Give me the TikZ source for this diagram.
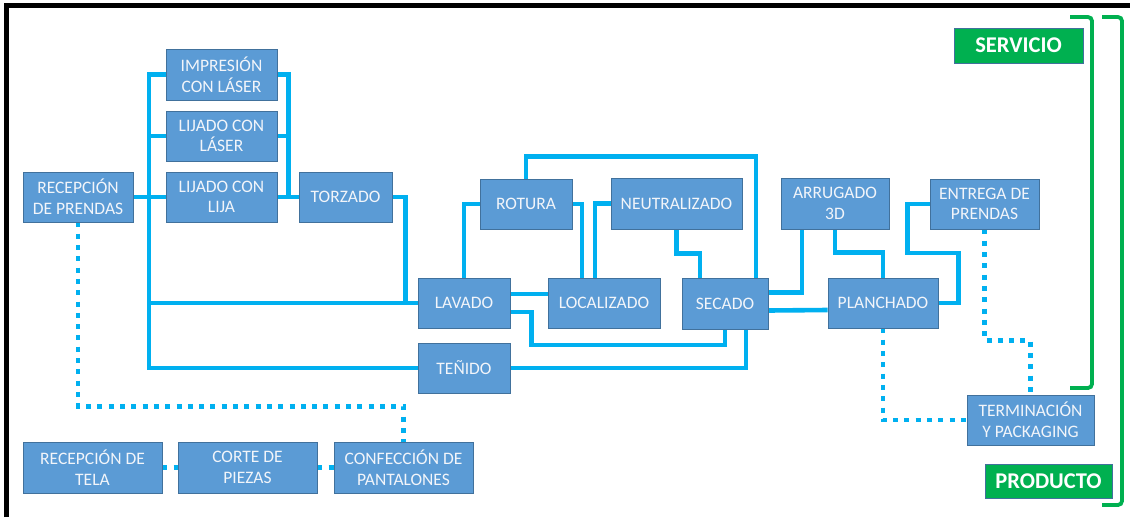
\documentclass[tikz,border=0pt]{standalone}
\usepackage{fontspec}
\setmainfont{Carlito}
\usetikzlibrary{backgrounds}
\begin{document}
\definecolor{boxfill}{HTML}{5B9BD5}
\definecolor{boxline}{HTML}{41719C}
\definecolor{flowc}{HTML}{00B0F0}
\definecolor{grn}{HTML}{00B050}
\definecolor{txt}{HTML}{F2F5FA}
\begin{tikzpicture}[x=1pt,y=-1pt,
  box/.style={draw=boxline,line width=0.8pt,fill=boxfill,text=txt,align=center,
    inner sep=0pt,minimum height=50pt,font=\fontsize{17.5}{20.7}\selectfont},
  tag/.style={draw=boxline,line width=0.8pt,fill=grn,text=white,align=center,
    inner sep=0pt,font=\fontsize{22.5}{24}\selectfont\bfseries},
  flow/.style={draw=flowc,line width=4.6pt},
  link/.style={draw=flowc,line width=4.6pt,dash pattern=on 5pt off 6.3pt},
  brace/.style={draw=grn,line width=3.8pt,rounded corners=4pt}]
\useasboundingbox (0,0) rectangle (1130,517);
% outer frame, open on the right and at the bottom
\draw[line width=5pt] (6.5,517) -- (6.5,5.5) -- (1130,5.5);

% process boxes
\node[box,minimum width=110pt] (rprend) at (78,197) {RECEPCIÓN\\DE PRENDAS};
\node[box,minimum width=111pt,minimum height=51pt] (imp) at (221.5,74.5) {IMPRESIÓN\\CON LÁSER};
\node[box,minimum width=111pt] (lijl) at (221.5,136) {LIJADO CON\\LÁSER};
\node[box,minimum width=111pt] (lija) at (221.5,197) {LIJADO CON\\LIJA};
\node[box,minimum width=93pt] (torz) at (345.5,197) {TORZADO};
\node[box,minimum width=92pt] (lav) at (464,303) {LAVADO};
\node[box,minimum width=92pt] (ten) at (464,368) {TEÑIDO};
\node[box,minimum width=92pt] (rot) at (526,204) {ROTURA};
\node[box,minimum width=112pt] (loc) at (604,303) {LOCALIZADO};
\node[box,minimum width=131pt,minimum height=51pt] (neu) at (676.5,203.5) {NEUTRALIZADO};
\node[box,minimum width=86pt,minimum height=51pt] (sec) at (725,303.5) {SECADO};
\node[box,minimum width=108pt,minimum height=51pt] (arr) at (835,203.5) {ARRUGADO\\3D};
\node[box,minimum width=109pt] (ent) at (984.5,204) {ENTREGA DE\\PRENDAS};
\node[box,minimum width=110pt] (pla) at (883,303) {PLANCHADO};
\node[box,minimum width=127pt] (ter) at (1030.5,420) {TERMINACIÓN\\Y PACKAGING};
\node[box,minimum width=139pt,minimum height=51pt] (rtela) at (92.5,467.5) {RECEPCIÓN DE\\TELA};
\node[box,minimum width=139pt,minimum height=51pt] (corte) at (247.5,467.5) {CORTE DE\\PIEZAS};
\node[box,minimum width=139pt,minimum height=51pt] (conf) at (403.5,467.5) {CONFECCIÓN DE\\PANTALONES};

% category tags
\node[tag,minimum width=129pt,minimum height=35pt] (serv) at (1018.5,45.5) {SERVICIO};
\node[tag,minimum width=127pt,minimum height=34pt] (prod) at (1048.5,481) {PRODUCTO};

\coordinate (bus) at (149,0);

\begin{scope}[on background layer]
% finishing treatments feeding the left bus
\draw[flow] (imp.west) -- (imp.west -| bus) |- (ten.west);
\draw[flow] (lijl.west) -- (lijl.west -| bus);
\draw[flow] (rprend.east) -- (lija.west);
\draw[flow] (lav.west) -- (lav.west -| bus);
% right trunk into TORZADO
\draw[flow] (imp.east) -- ++(11,0) |- (torz.west);
\draw[flow] (lijl.east) -- ++(11,0);
\draw[flow] (lija.east) -- (torz.west);
\draw[flow] (torz.east) -- ++(13,0) |- (lav.west);
% wet processes
\draw[flow] (rot.west) -| (lav.north);
\draw[flow] (rot.north) -- ++(0,-22) -| ([xshift=31pt]sec.north);
\draw[flow] (rot.east) -| ([xshift=-22pt]loc.north);
\draw[flow] (neu.west) -| ([xshift=-9pt]loc.north);
\draw[flow] (neu.south) -- ++(0,24) -| ([xshift=-25pt]sec.north);
\draw[flow] ([yshift=9pt]lav.east) -- ([yshift=9pt]loc.west);
\draw[flow] ([yshift=-9pt]lav.east) -| ++(21,33) -| (sec.south);
\draw[flow] (ten.east) -| ([xshift=21pt]sec.south);
% drying to finishing
\draw[flow] ([yshift=11pt]sec.east) -| ([xshift=-33pt]arr.south);
\draw[flow] ([yshift=-7pt]sec.east) -- ([yshift=-7pt]pla.west);
\draw[flow] (arr.south) -- ++(0,23) -| (pla.north);
\draw[flow] (ent.west) -- ++(-22,0) -- ++(0,49) -- ++(51,0) |- (pla.east);
% product links
\draw[link] (ent.south) -- ++(0,111) -| (ter.north);
\draw[link] (pla.south) |- (ter.west);
\draw[link] (rprend.south) -- ++(0,184) -| (conf.north);
\draw[link] (rtela.east) -- (corte.west);
\draw[link] (corte.east) -- (conf.west);
\end{scope}

% group brackets
\draw[brace] (1070,17) -- (1092,17) -- (1092,388) -- (1070,388);
\draw[brace] (1102,17) -- (1122,17) -- (1122,505) -- (1102,505);
\end{tikzpicture}
\end{document}
